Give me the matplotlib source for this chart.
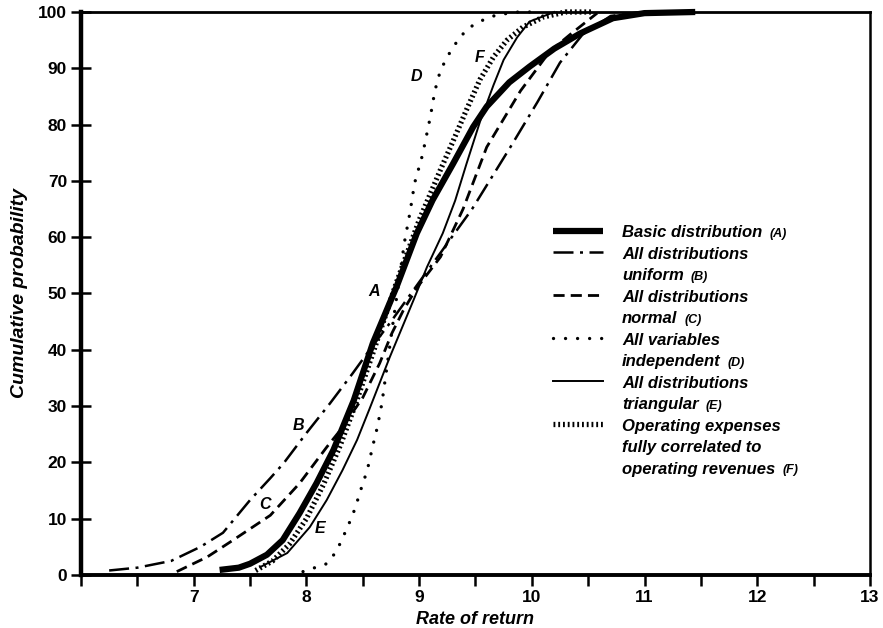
import matplotlib.pyplot as plt
from matplotlib.ticker import MultipleLocator

plt.rcParams['font.family'] = ['Liberation Sans', 'DejaVu Sans']

# cumulative probability (%) against rate of return (%) for each simulation run
rate_a = [7.23, 7.4, 7.5, 7.65, 7.79, 7.94, 8.09, 8.24, 8.42, 8.59, 8.8, 8.98,
          9.12, 9.3, 9.48, 9.6, 9.8, 9.98, 10.2, 10.43, 10.72, 11.0, 11.45]
prob_a = [0.9, 1.3, 2, 3.6, 6.2, 11, 16.3, 22.2, 31, 41.2, 51.2, 60.7,
          66.6, 73, 79.6, 83.2, 87.5, 90.3, 93.5, 96.2, 98.9, 99.8, 100]

rate_b = [6.25, 6.5, 6.8, 7.06, 7.26, 7.5, 7.68, 7.8, 8.0, 8.21, 8.41, 8.54,
          8.75, 9.0, 9.2, 9.47, 9.81, 10.05, 10.25, 10.45, 10.7, 11.0]
prob_b = [0.8, 1.3, 2.5, 5, 7.5, 13.3, 17.2, 19.9, 25.2, 30.5, 35.8, 39.4,
          45, 52, 57.5, 65, 76, 84, 91, 96, 99.3, 100]

rate_c = [6.85, 7.12, 7.35, 7.68, 7.94, 8.18, 8.3, 8.5, 8.65, 8.76, 8.86, 8.98,
          9.19, 9.39, 9.6, 9.9, 10.16, 10.34, 10.58]
prob_c = [0.6, 3.2, 6.2, 10.6, 16.3, 22.7, 25.7, 31.5, 37.6, 43, 47, 51,
          56.5, 65, 76, 86, 93, 96, 99.8]

rate_d = [7.97, 8.06, 8.18, 8.24, 8.3, 8.36, 8.41, 8.45, 8.49, 8.54, 8.59, 8.63,
          8.67, 8.77, 8.87, 8.92, 8.96, 9.03, 9.1, 9.14, 9.19, 9.27, 9.36, 9.45,
          9.57, 9.69, 9.88, 10.05]
prob_d = [0.6, 1.2, 2, 3.5, 5.6, 8.3, 10.6, 13, 15.6, 18.6, 23, 26.3,
          30.5, 45, 59.1, 64.5, 69.6, 74.6, 81.4, 86, 89.7, 92.7, 95.5, 97.3,
          98.6, 99.5, 100, 100]

rate_e = [7.59, 7.83, 8.03, 8.18, 8.32, 8.45, 8.56, 8.74, 8.95, 9.07, 9.21, 9.32,
          9.42, 9.54, 9.66, 9.75, 9.87, 9.98, 10.2]
prob_e = [1.4, 3.9, 8.5, 13.3, 18.6, 24, 29.5, 38.7, 48.8, 54.7, 60.7, 66.5,
          73, 80.5, 87, 91.5, 95.5, 98.3, 100]

rate_f = [7.55, 7.7, 7.85, 8.0, 8.15, 8.3, 8.43, 8.6, 8.8, 9.0, 9.19, 9.3,
          9.42, 9.54, 9.66, 9.78, 9.92, 10.1, 10.3, 10.55]
prob_f = [0.8, 2.5, 5.5, 10, 16, 23, 30, 40, 52, 63, 72, 77,
          82.6, 88, 92, 95, 97.3, 99.1, 100, 100]

# curve letters and where they sit
curve_tags = ["A", "B", "C", "D", "E", "F"]
tag_rate = [8.6, 7.93, 7.63, 8.98, 8.12, 9.54]
tag_prob = [50.3, 26.6, 12.6, 88.5, 8.3, 92]

legend_text = [
    ["Basic distribution", "(A)"],
    ["All distributions", "uniform", "(B)"],
    ["All distributions", "normal", "(C)"],
    ["All variables", "independent", "(D)"],
    ["All distributions", "triangular", "(E)"],
    ["Operating expenses", "fully correlated to", "operating revenues", "(F)"],
]

styles = [
    dict(lw=4.5, solid_capstyle="butt", solid_joinstyle="round"),
    dict(lw=1.8, dashes=(8, 2.6, 1.2, 2.6)),
    dict(lw=2.0, dashes=(4, 2.2)),
    dict(lw=2.4, dashes=(0.01, 3.6), dash_capstyle="round"),
    dict(lw=1.4, solid_joinstyle="round"),
    dict(lw=3.8, dashes=(0.35, 0.55), dash_capstyle="butt"),
]

fig = plt.figure(figsize=(8.83, 6.28), dpi=100)
ax = fig.add_axes([0.0917, 0.0844, 0.8935, 0.8965])

curves = [(rate_a, prob_a), (rate_b, prob_b), (rate_c, prob_c),
          (rate_d, prob_d), (rate_e, prob_e), (rate_f, prob_f)]
for (x, y), st in zip(curves, styles):
    ax.plot(x, y, color="black", clip_on=False, **st)

for tag, x, y in zip(curve_tags, tag_rate, tag_prob):
    ax.text(x, y, tag, fontsize=11.5, style="italic", fontweight="bold",
            ha="center", va="center")

# hand-built key on the right
row_h = 21.5 / 563
y0 = (575 - 233) / 563
row = 0
for lines, st in zip(legend_text, styles):
    yy = y0 - row * row_h
    ax.plot([0.598, 0.662], [yy + 0.004, yy + 0.004], color="black",
            transform=ax.transAxes, **st)
    body = lines[:-1]
    for i, s in enumerate(body):
        t = ax.text(0.686, yy - i * row_h, s, transform=ax.transAxes,
                    fontsize=12, style="italic", fontweight="bold", va="center")
    ax.annotate(lines[-1], xy=(1, 0.5), xycoords=t, xytext=(5, -0.5),
                textcoords="offset points", fontsize=9, style="italic",
                fontweight="bold", va="center")
    row += len(body)

ax.set_xlim(6, 13)
ax.set_ylim(0, 100)
ax.xaxis.set_major_locator(MultipleLocator(1))
ax.xaxis.set_minor_locator(MultipleLocator(0.5))
ax.yaxis.set_major_locator(MultipleLocator(10))
ax.set_xticks(range(7, 14))
ax.tick_params(axis="x", which="both", direction="out", length=8, width=1.8,
               pad=3, labelsize=12.5)
ax.tick_params(axis="y", direction="inout", length=14, width=1.8, pad=3,
               labelsize=12.5)
for lab in ax.get_xticklabels() + ax.get_yticklabels():
    lab.set_fontweight("bold")

ax.spines["left"].set_linewidth(3.2)
ax.spines["bottom"].set_linewidth(2.8)
ax.spines["top"].set_linewidth(2.0)
ax.spines["right"].set_linewidth(1.8)

ax.set_xlabel("Rate of return", fontsize=13, style="italic",
              fontweight="bold", labelpad=4)
ax.set_ylabel("Cumulative probability", fontsize=14, style="italic",
              fontweight="bold", labelpad=7)

fig.savefig("out.png", dpi=100)
